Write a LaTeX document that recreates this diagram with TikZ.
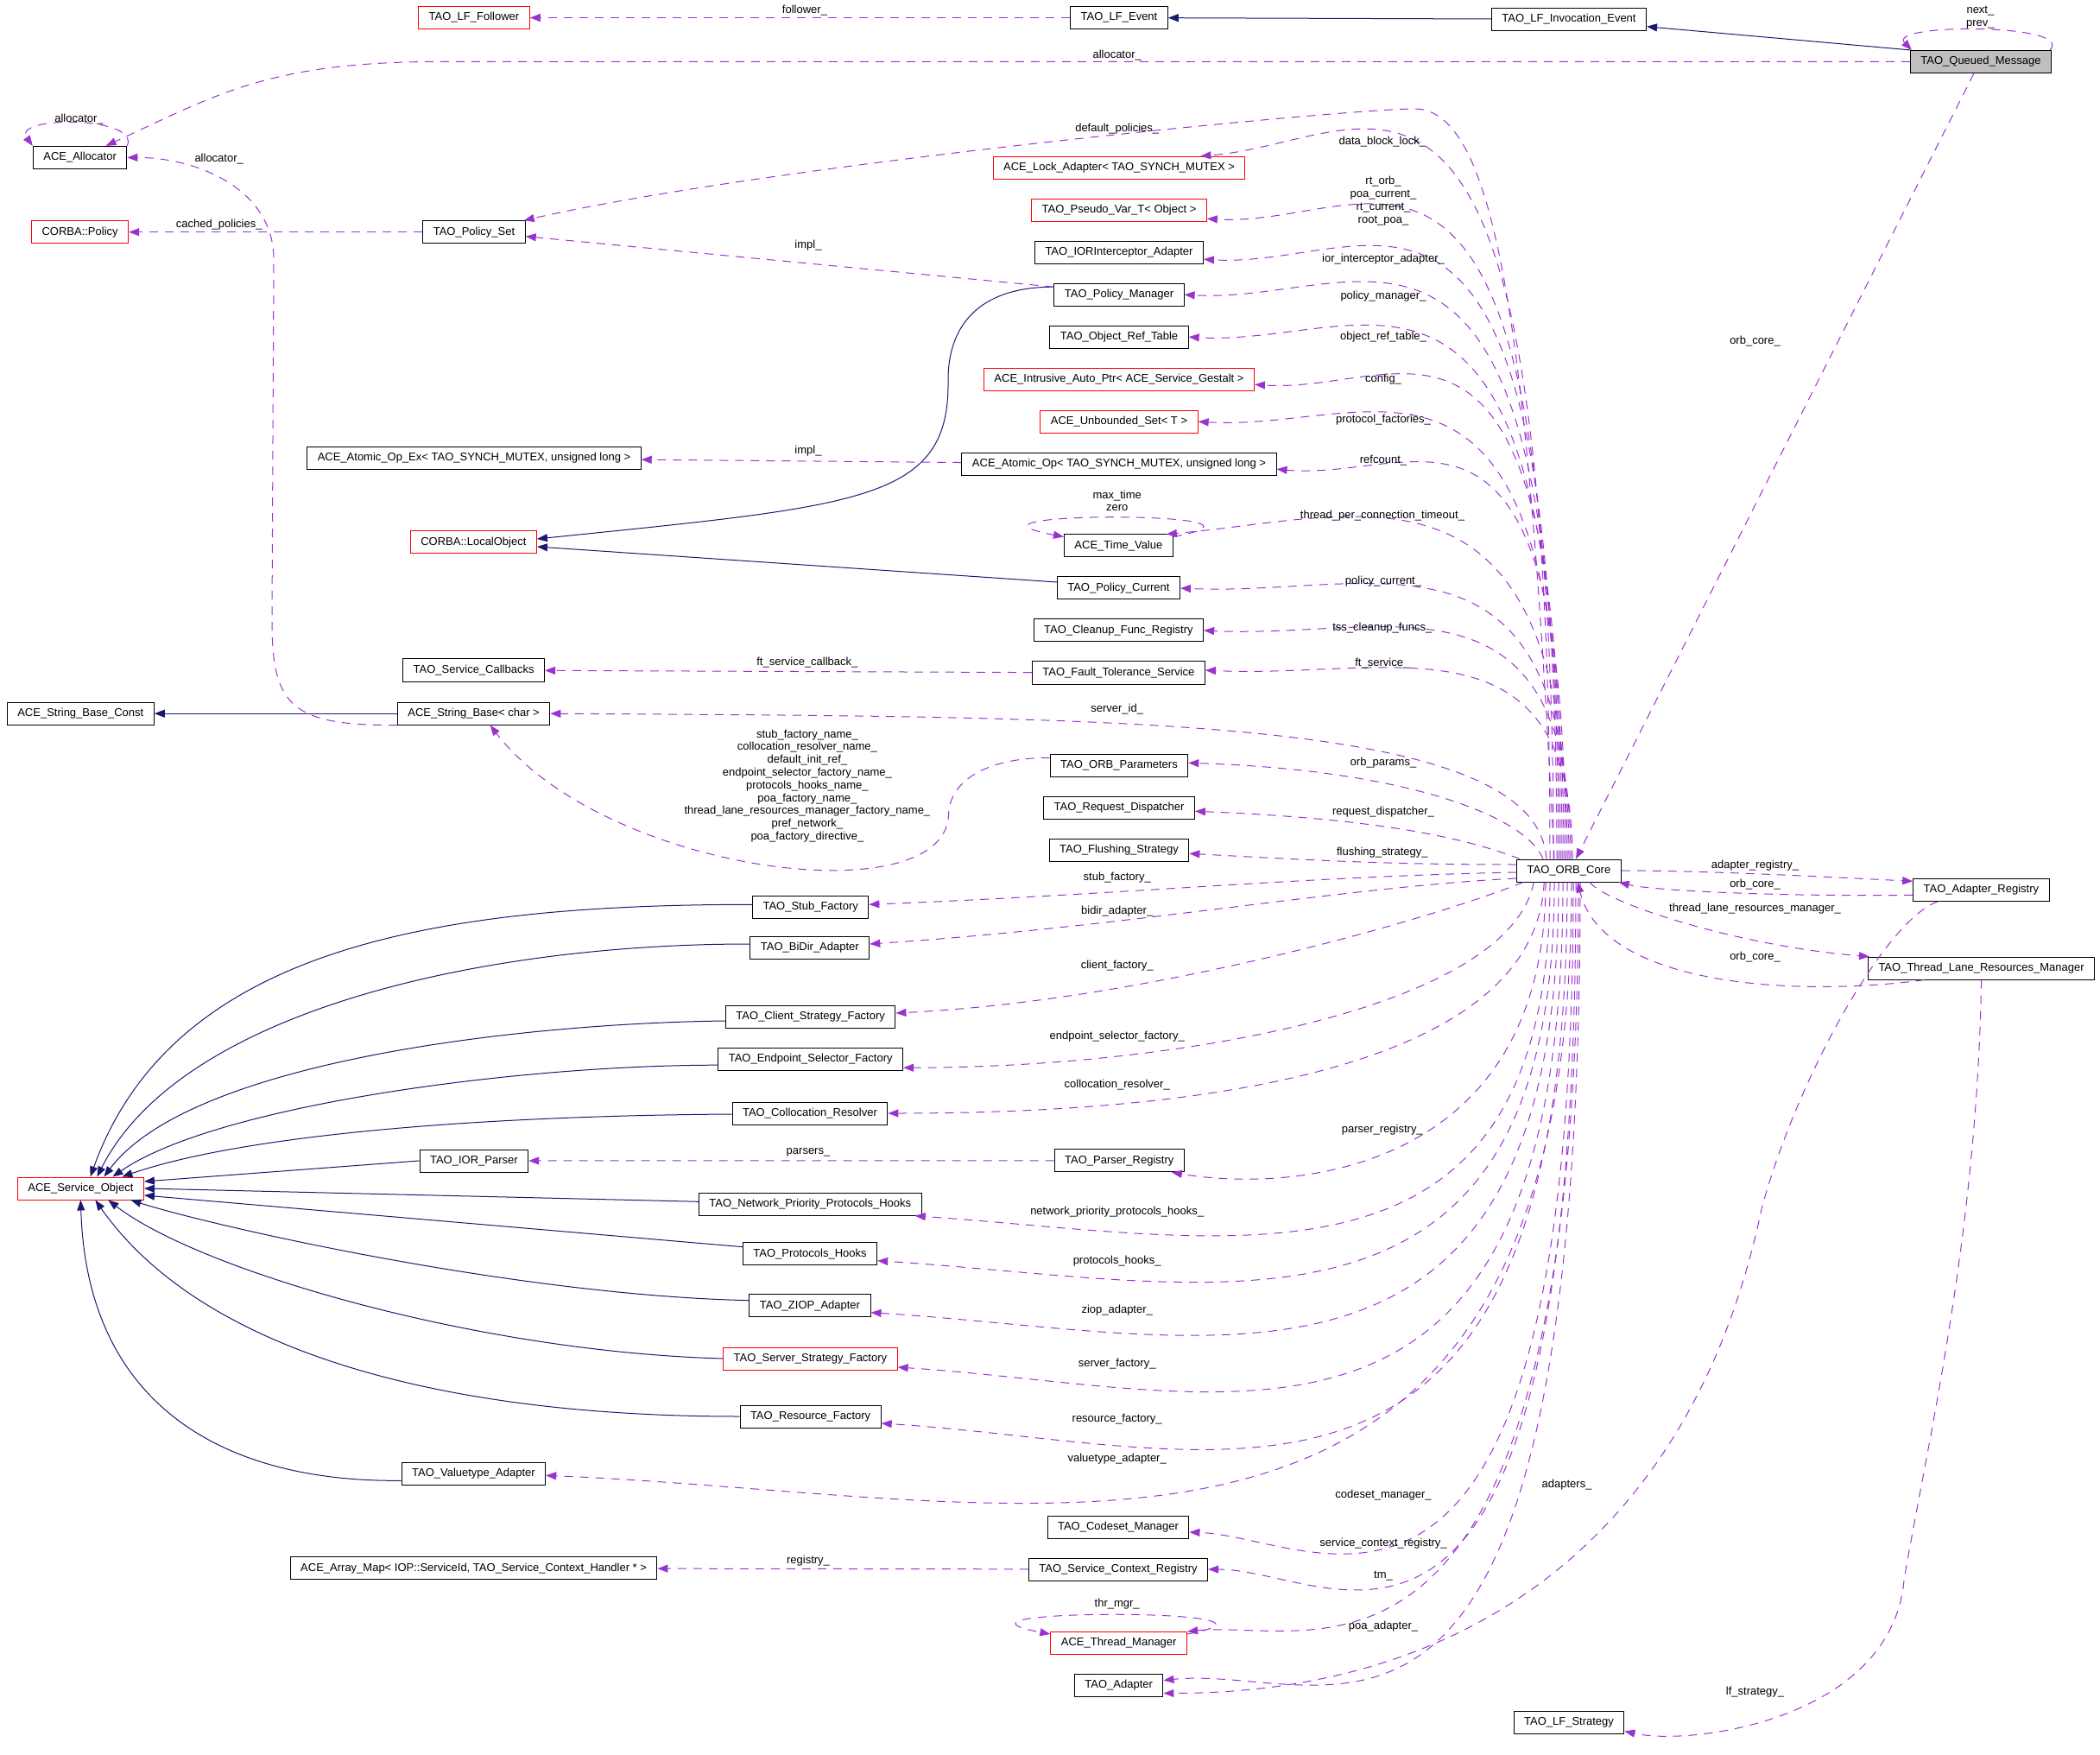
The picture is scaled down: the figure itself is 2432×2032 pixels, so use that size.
\documentclass[tikz,border=0pt]{standalone}
\usepackage{fontspec}
\setmainfont{Liberation Sans}
\usepackage{xcolor}
\usepackage{tikz}
\usetikzlibrary{arrows.meta,positioning}

\definecolor{edgenavy}{HTML}{191970}
\definecolor{edgepurple}{HTML}{9A32CD}
\definecolor{boxgray}{HTML}{BFBFBF}

\newcommand{\dgsize}{\fontsize{6.5}{7.4}\selectfont}

\tikzset{
    cls/.style={
        rectangle,
        draw,
        line width=0.5pt,
        align=center,
        inner xsep=6pt,
        inner ysep=1pt,
        minimum height=13pt,
        font=\dgsize
    },
    clsred/.style={cls, draw=red},
    clscur/.style={cls, fill=boxgray},
    inherit/.style={->, draw=edgenavy, line width=0.5pt},
    uses/.style={->, draw=edgepurple, line width=0.5pt, dash pattern=on 5pt off 4pt},
    lbl/.style={inner sep=0pt, align=center, font=\dgsize}
}

\begin{document}
\begin{tikzpicture}[x=0.5pt, y=-0.5pt, node distance=11pt, >={Triangle[length=6pt,width=4.5pt]}]
    \useasboundingbox (0,0) rectangle (2432,2032);

    % classes
    \node (follower) [clsred] at (549,20.5) {TAO\_LF\_Follower};
    \node (lfevent) [cls] at (1296,20.5) {TAO\_LF\_Event};
    \node (lfinv) [cls] at (1817,22.3) {TAO\_LF\_Invocation\_Event};
    \node (queued) [clscur] at (2294,71.4) {TAO\_Queued\_Message};
    \node (allocator) [cls] at (92.6,182.4) {ACE\_Allocator};
    \node (policy) [clsred] at (92.6,268.7) {CORBA::Policy};
    \node (policyset) [cls] at (549,268.7) {TAO\_Policy\_Set};
    \node (atomicopex) [cls] at (549,530.4) {ACE\_Atomic\_Op\_Ex< TAO\_SYNCH\_MUTEX, unsigned long >};
    \node (localobj) [clsred] at (548.4,628) {CORBA::LocalObject};
    \node (lockadapter) [clsred] at (1296,194.2) {ACE\_Lock\_Adapter< TAO\_SYNCH\_MUTEX >};
    \node (pseudovar) [clsred, below=of lockadapter] {TAO\_Pseudo\_Var\_T< Object >};
    \node (iorint) [cls, below=of pseudovar] {TAO\_IORInterceptor\_Adapter};
    \node (policymgr) [cls, below=of iorint] {TAO\_Policy\_Manager};
    \node (objref) [cls, below=of policymgr] {TAO\_Object\_Ref\_Table};
    \node (intrusive) [clsred, below=of objref] {ACE\_Intrusive\_Auto\_Ptr< ACE\_Service\_Gestalt >};
    \node (unbounded) [clsred, below=of intrusive] {ACE\_Unbounded\_Set< T >};
    \node (atomicop) [cls, below=of unbounded] {ACE\_Atomic\_Op< TAO\_SYNCH\_MUTEX, unsigned long >};
    \node (timevalue) [cls] at (1295.4,632) {ACE\_Time\_Value};
    \node (policycur) [cls, below=of timevalue] {TAO\_Policy\_Current};
    \node (cleanup) [cls, below=of policycur] {TAO\_Cleanup\_Func\_Registry};
    \node (ftservice) [cls, below=of cleanup] {TAO\_Fault\_Tolerance\_Service};
    \node (svccallbacks) [cls] at (548.6,776) {TAO\_Service\_Callbacks};
    \node (strbaseconst) [cls] at (93.3,826.2) {ACE\_String\_Base\_Const};
    \node (strbase) [cls] at (548.6,826.2) {ACE\_String\_Base< char >};
    \node (orbparams) [cls] at (1296,886.3) {TAO\_ORB\_Parameters};
    \node (reqdisp) [cls, below=of orbparams] {TAO\_Request\_Dispatcher};
    \node (flushing) [cls, below=of reqdisp] {TAO\_Flushing\_Strategy};
    \node (orbcore) [cls] at (1817,1008) {TAO\_ORB\_Core};
    \node (adapterreg) [cls] at (2294.4,1030.3) {TAO\_Adapter\_Registry};
    \node (tlrm) [cls] at (2294.6,1121.1) {TAO\_Thread\_Lane\_Resources\_Manager};
    \node (stubfac) [cls] at (938.7,1050.3) {TAO\_Stub\_Factory};
    \node (bidir) [cls] at (937.8,1097) {TAO\_BiDir\_Adapter};
    \node (clientstrat) [cls] at (938.7,1177) {TAO\_Client\_Strategy\_Factory};
    \node (endpointsel) [cls] at (938.7,1226.2) {TAO\_Endpoint\_Selector\_Factory};
    \node (colloc) [cls] at (938,1289) {TAO\_Collocation\_Resolver};
    \node (iorparser) [cls] at (548.9,1344) {TAO\_IOR\_Parser};
    \node (parserreg) [cls] at (1296.3,1343.9) {TAO\_Parser\_Registry};
    \node (svcobj) [clsred] at (93.4,1376) {ACE\_Service\_Object};
    \node (npph) [cls] at (938.3,1394.3) {TAO\_Network\_Priority\_Protocols\_Hooks};
    \node (protohooks) [cls] at (938,1451.7) {TAO\_Protocols\_Hooks};
    \node (ziop) [cls] at (938,1511.7) {TAO\_ZIOP\_Adapter};
    \node (serverstrat) [clsred] at (938.4,1573) {TAO\_Server\_Strategy\_Factory};
    \node (resfactory) [cls] at (938.6,1640) {TAO\_Resource\_Factory};
    \node (valuetype) [cls] at (548.4,1706.3) {TAO\_Valuetype\_Adapter};
    \node (codeset) [cls] at (1295,1768) {TAO\_Codeset\_Manager};
    \node (svcctx) [cls, below=of codeset] {TAO\_Service\_Context\_Registry};
    \node (arraymap) [cls] at (548.6,1815.8) {ACE\_Array\_Map< IOP::ServiceId, TAO\_Service\_Context\_Handler * >};
    \node (threadmgr) [clsred] at (1295.7,1902.5) {ACE\_Thread\_Manager};
    \node (taoadapter) [cls, below=of threadmgr] {TAO\_Adapter};
    \node (lfstrategy) [cls] at (1817,1994.5) {TAO\_LF\_Strategy};

    % bend points
    \coordinate (dpeak) at (1638,126);
    \coordinate (mgrbend) at (1098,440);
    \coordinate (allocup) at (317,300);
    \coordinate (allocdown) at (315,720);
    \coordinate (parambend) at (1098.5,945);
    \coordinate (adpbend) at (2040,1400);
    \coordinate (lfbend) at (2205,1830);

    % inheritance
    \draw [inherit] (lfinv) -- (lfevent);
    \draw [inherit] (queued.north west) -- ([yshift=2.5pt]lfinv.south east);
    \draw [inherit] ([yshift=4.5pt]policymgr.west) .. controls +(-90,0) and +(0,-60) .. (mgrbend)
        .. controls +(2,140) and +(379,-39) .. ([yshift=2pt]localobj.east);
    \draw [inherit] ([yshift=3.5pt]policycur.west) -- ([yshift=-2.5pt]localobj.east);
    \draw [inherit] (strbase) -- (strbaseconst);
    \draw [inherit] ([yshift=1.5pt]stubfac.west) .. controls +(-372,0) and +(95,-263) .. ([xshift=5.6pt]svcobj.north);
    \draw [inherit] ([yshift=2pt]bidir.west) .. controls +(-308,0) and +(98,-193) .. ([xshift=9.5pt]svcobj.north);
    \draw [inherit] ([yshift=-2.5pt]clientstrat.west) .. controls +(-240,3) and +(100,-133) .. ([xshift=13.5pt]svcobj.north);
    \draw [inherit] ([yshift=-3.5pt]endpointsel.west) .. controls +(-230,0) and +(120,-83) .. ([xshift=18.5pt]svcobj.north);
    \draw [inherit] ([yshift=-0.5pt]colloc.west) .. controls +(-298,2) and +(139,-48) .. ([xshift=24pt]svcobj.north);
    \draw [inherit] (iorparser.west) -- ([yshift=4pt]svcobj.east);
    \draw [inherit] ([yshift=1.5pt]npph.west) -- (svcobj.east);
    \draw [inherit] ([yshift=4pt]protohooks.west) -- ([yshift=-4pt]svcobj.east);
    \draw [inherit] ([yshift=3pt]ziop.west) .. controls +(-268,-6) and +(98,31) .. ([xshift=29pt]svcobj.south);
    \draw [inherit] (serverstrat.west) .. controls +(-286,-8) and +(105,81) .. ([xshift=16pt]svcobj.south);
    \draw [inherit] (resfactory.west) .. controls +(-357,0) and +(120,171) .. ([xshift=8.5pt]svcobj.south);
    \draw [inherit] ([yshift=-4pt]valuetype.west) .. controls +(-214,2) and +(7,231) .. (svcobj.south);

    % members
    \draw [uses] (lfevent) -- (follower);
    \draw [uses] (queued.west) -- ++(-1700,0) .. controls +(-200,0) and +(130,-60) .. ([xshift=15pt]allocator.north);
    \draw [uses] (allocator.north east) .. controls +(15,-35) and +(-25,-35) .. (allocator.north west);
    \draw [uses] (strbase.south west) .. controls +(-120,0) and +(0,100) .. (allocdown) -- (allocup)
        .. controls +(0,-80) and +(82.5,0) .. (allocator.east);
    \draw [uses] (policyset) -- (policy);
    \draw [uses] ([xshift=-8.5pt]orbcore.north) .. controls +(-30,-596) and +(97,0) .. (dpeak)
        .. controls +(-78,0) and +(293,-66) .. ([xshift=-1pt]policyset.north east);
    \draw [uses] ([yshift=4.5pt]policymgr.west) -- ([yshift=-2.5pt]policyset.east);
    \draw [uses] (atomicop) -- (atomicopex);
    \draw [uses] (ftservice) -- (svccallbacks);
    \draw [uses] (parserreg) -- (iorparser);
    \draw [uses] (svcctx) -- (arraymap);
    \draw [uses] ([yshift=4.5pt]orbparams.west) .. controls +(-75,0) and +(0,-40) .. (parambend)
        .. controls +(-8,115) and +(132,171) .. ([xshift=9.5pt]strbase.south);

    % from the ORB core, upwards
    \draw [uses] ([xshift=-11pt]orbcore.north) .. controls +(0,-1059) and +(202,-15) .. ([xshift=-26pt]lockadapter.north east);
    \draw [uses] ([xshift=-9pt]orbcore.north) .. controls +(0,-967) and +(200,12) .. ([yshift=-5pt]pseudovar.east);
    \draw [uses] ([xshift=-7pt]orbcore.north) .. controls +(0,-906) and +(205,12) .. ([yshift=-4pt]iorint.east);
    \draw [uses] ([xshift=-6pt]orbcore.north) .. controls +(0,-855) and +(217,12) .. (policymgr.east);
    \draw [uses] ([xshift=-5pt]orbcore.north) .. controls +(0,-792) and +(215,12) .. (objref.east);
    \draw [uses] ([xshift=-4pt]orbcore.north) .. controls +(0,-722) and +(177,12) .. ([yshift=-3pt]intrusive.east);
    \draw [uses] ([xshift=-3pt]orbcore.north) .. controls +(0,-667) and +(211,12) .. (unbounded.east);
    \draw [uses] ([xshift=-2pt]orbcore.north) .. controls +(0,-597) and +(166,15) .. ([yshift=-3pt]atomicop.east);
    \draw [uses] ([xshift=-1pt]orbcore.north) .. controls +(0,-489) and +(229,-20) .. ([xshift=-4pt]timevalue.north east);
    \draw [uses] (orbcore.north) .. controls +(0,-411) and +(225,10) .. (policycur.east);
    \draw [uses] ([xshift=1pt]orbcore.north) .. controls +(0,-349) and +(212,10) .. (cleanup.east);
    \draw [uses] ([xshift=2pt]orbcore.north) .. controls +(0,-290) and +(212,10) .. ([yshift=1.5pt]ftservice.east);
    \draw [uses] ([xshift=-13pt]orbcore.north) .. controls +(-11,-166) and +(662,4) .. (strbase.east);
    \draw [uses] ([xshift=-15pt]orbcore.north) .. controls +(-20,-50) and +(250,8) .. ([yshift=1.5pt]orbparams.east);
    \draw [uses] ([xshift=2pt]orbcore.north west) .. controls +(-40,-15) and +(250,10) .. ([yshift=-2pt]reqdisp.east);
    \draw [uses] ([yshift=3.5pt]orbcore.west) .. controls +(-150,0) and +(150,8) .. ([yshift=-2pt]flushing.east);
    \draw [uses] ([yshift=-1pt]orbcore.west) .. controls +(-250,5) and +(300,-12) .. ([yshift=1.5pt]stubfac.east);
    \draw [uses] ([yshift=-4.5pt]orbcore.west) .. controls +(-200,10) and +(300,-20) .. ([yshift=2pt]bidir.east);

    % from the ORB core, downwards
    \draw [uses] ([xshift=4pt]orbcore.south west) .. controls +(-100,40) and +(300,-15) .. ([yshift=2pt]clientstrat.east);
    \draw [uses] ([xshift=10pt]orbcore.south west) .. controls +(-30,150) and +(300,0) .. ([yshift=-5pt]endpointsel.east);
    \draw [uses] ([xshift=16pt]orbcore.south west) .. controls +(-10,220) and +(350,0) .. (colloc.east);
    \draw [uses] ([xshift=-13.5pt]orbcore.south) .. controls +(0,330) and +(150,25) .. ([xshift=-7.5pt]parserreg.south east);
    \draw [uses] ([xshift=-11pt]orbcore.south) .. controls +(0,503) and +(367,25) .. ([xshift=-4pt]npph.south east);
    \draw [uses] ([xshift=-8.5pt]orbcore.south) .. controls +(0,572) and +(392,25) .. ([yshift=-4pt]protohooks.east);
    \draw [uses] ([xshift=-6pt]orbcore.south) .. controls +(0,649) and +(398,25) .. ([yshift=-4pt]ziop.east);
    \draw [uses] ([xshift=-3.5pt]orbcore.south) .. controls +(0,732) and +(385,25) .. ([yshift=-5pt]serverstrat.east);
    \draw [uses] ([xshift=-1pt]orbcore.south) .. controls +(0,816) and +(397,25) .. ([yshift=-4pt]resfactory.east);
    \draw [uses] ([xshift=1.5pt]orbcore.south) .. controls +(0,895) and +(594,25) .. ([yshift=-1pt]valuetype.east);
    \draw [uses] ([xshift=2.5pt]orbcore.south) .. controls +(0,980) and +(150,5) .. ([yshift=-3pt]codeset.east);
    \draw [uses] ([xshift=4pt]orbcore.south) .. controls +(0,1035) and +(150,0) .. (svcctx.east);
    \draw [uses] ([xshift=5.5pt]orbcore.south) .. controls +(0,1000) and +(150,-15) .. (threadmgr.north east);
    \draw [uses] ([xshift=6.5pt]orbcore.south) .. controls +(0,1130) and +(200,-20) .. ([yshift=3pt]taoadapter.east);

    % right hand side
    \draw [uses] ([xshift=-4pt]queued.south) -- ([xshift=4pt]orbcore.north);
    \draw [uses] ([xshift=-1pt]queued.north east) .. controls +(30,-31) and +(-30,-31) .. ([xshift=1pt]queued.north west);
    \draw [uses] (orbcore.east) .. controls +(100,0) and +(-100,-5) .. ([yshift=5pt]adapterreg.west);
    \draw [uses] ([yshift=-3pt]adapterreg.west) .. controls +(-150,2) and +(40,10) .. ([xshift=-1.5pt]orbcore.south east);
    \draw [uses] ([xshift=12pt]orbcore.south) .. controls +(20,25) and +(-150,-12) .. ([xshift=1pt]tlrm.north west);
    \draw [uses] ([xshift=-33pt]tlrm.south) .. controls +(-150,20) and +(30,120) .. ([xshift=5pt]orbcore.south);
    \draw [uses] ([xshift=-25pt]adapterreg.south) .. controls +(-60,20) and +(40,-150) .. (adpbend)
        .. controls +(-80,380) and +(352,0) .. ([yshift=-4.5pt]taoadapter.east);
    \draw [uses] (tlrm.south) .. controls +(-5,300) and +(25,-150) .. (lfbend)
        .. controls +(-15,160) and +(79,17.5) .. ([yshift=-5pt]lfstrategy.east);

    % self references
    \draw [uses] ([yshift=-1.5pt]timevalue.north east) .. controls +(160,-30) and +(-160,-30) .. ([yshift=-1.5pt]timevalue.north west);
    \draw [uses] ([yshift=-1.5pt]threadmgr.north east) .. controls +(160,-30) and +(-160,-30) .. ([yshift=-1.5pt]threadmgr.north west);

    % labels
    \node (l-follower) [lbl] at (932,12.5) {follower\_};
    \node (l-alloc1) [lbl] at (1293.7,63.8) {allocator\_};
    \node (l-alloc2) [lbl] at (91.5,138.4) {allocator\_};
    \node (l-alloc3) [lbl] at (253.7,184.4) {allocator\_};
    \node (l-cached) [lbl] at (253.7,260.3) {cached\_policies\_};
    \node (l-defpol) [lbl] at (1293.7,148.7) {default\_policies\_};
    \node (l-dblock) [lbl] at (1600.8,164.3) {data\_block\_lock\_};
    \node (l-pseudo) [lbl] at (1602,232.5) {rt\_orb\_\\poa\_current\_\\rt\_current\_\\root\_poa\_};
    \node (l-impl1) [lbl] at (936,284.4) {impl\_};
    \node (l-iorint) [lbl] at (1602,300.4) {ior\_interceptor\_adapter\_};
    \node (l-polmgr) [lbl] at (1602,342.9) {policy\_manager\_};
    \node (l-objref) [lbl] at (1602,390.6) {object\_ref\_table\_};
    \node (l-config) [lbl] at (1602,438.8) {config\_};
    \node (l-protfac) [lbl] at (1602,486.6) {protocol\_factories\_};
    \node (l-impl2) [lbl] at (936,522.3) {impl\_};
    \node (l-refcount) [lbl] at (1602,532.6) {refcount\_};
    \node (l-maxtime) [lbl] at (1293.7,579.8) {max\_time\\zero};
    \node (l-tpct) [lbl] at (1601,596.9) {thread\_per\_connection\_timeout\_};
    \node (l-polcur) [lbl] at (1602,672.8) {policy\_current\_};
    \node (l-tss) [lbl] at (1600.8,727.3) {tss\_cleanup\_funcs\_};
    \node (l-ftcb) [lbl] at (934.9,767.5) {ft\_service\_callback\_};
    \node (l-ftsvc) [lbl] at (1600.8,768.4) {ft\_service\_};
    \node (l-serverid) [lbl] at (1293.7,820.6) {server\_id\_};
    \node (l-names) [lbl] at (934.9,910) {stub\_factory\_name\_\\collocation\_resolver\_name\_\\default\_init\_ref\_\\endpoint\_selector\_factory\_name\_\\protocols\_hooks\_name\_\\poa\_factory\_name\_\\thread\_lane\_resources\_manager\_factory\_name\_\\pref\_network\_\\poa\_factory\_directive\_};
    \node (l-orbparams) [lbl] at (1602,882.7) {orb\_params\_};
    \node (l-reqdisp) [lbl] at (1602,940.3) {request\_dispatcher\_};
    \node (l-flush) [lbl] at (1600.8,986.7) {flushing\_strategy\_};
    \node (l-stub) [lbl] at (1293.7,1016.6) {stub\_factory\_};
    \node (l-bidir) [lbl] at (1293.7,1055.4) {bidir\_adapter\_};
    \node (l-client) [lbl] at (1293.7,1118.4) {client\_factory\_};
    \node (l-endpoint) [lbl] at (1293.7,1200.5) {endpoint\_selector\_factory\_};
    \node (l-colloc) [lbl] at (1293.7,1256.3) {collocation\_resolver\_};
    \node (l-parserreg) [lbl] at (1600.8,1307.7) {parser\_registry\_};
    \node (l-parsers) [lbl] at (936,1334.5) {parsers\_};
    \node (l-npph) [lbl] at (1293.7,1402.9) {network\_priority\_protocols\_hooks\_};
    \node (l-phooks) [lbl] at (1293.7,1459.9) {protocols\_hooks\_};
    \node (l-ziop) [lbl] at (1293.7,1516.9) {ziop\_adapter\_};
    \node (l-server) [lbl] at (1293.7,1579) {server\_factory\_};
    \node (l-resource) [lbl] at (1293.7,1642.9) {resource\_factory\_};
    \node (l-valuetype) [lbl] at (1293.7,1689.2) {valuetype\_adapter\_};
    \node (l-codeset) [lbl] at (1602,1731.6) {codeset\_manager\_};
    \node (l-svcctx) [lbl] at (1602,1786.9) {service\_context\_registry\_};
    \node (l-registry) [lbl] at (936,1807) {registry\_};
    \node (l-tm) [lbl] at (1602,1824.2) {tm\_};
    \node (l-thrmgr) [lbl] at (1293.7,1856.8) {thr\_mgr\_};
    \node (l-poa) [lbl] at (1602,1882.9) {poa\_adapter\_};
    \node (l-adapters) [lbl] at (1814.6,1719.6) {adapters\_};
    \node (l-lfstrat) [lbl] at (2032.5,1958.8) {lf\_strategy\_};
    \node (l-nextprev) [lbl] at (2293.4,20.1) {next\_\\prev\_};
    \node (l-orbcore1) [lbl] at (2032.5,394.6) {orb\_core\_};
    \node (l-adpreg) [lbl] at (2032.5,1002.3) {adapter\_registry\_};
    \node (l-orbcore2) [lbl] at (2032.5,1023.8) {orb\_core\_};
    \node (l-tlrm) [lbl] at (2032.5,1052.3) {thread\_lane\_resources\_manager\_};
    \node (l-orbcore3) [lbl] at (2032.5,1107.7) {orb\_core\_};
\end{tikzpicture}
\end{document}
